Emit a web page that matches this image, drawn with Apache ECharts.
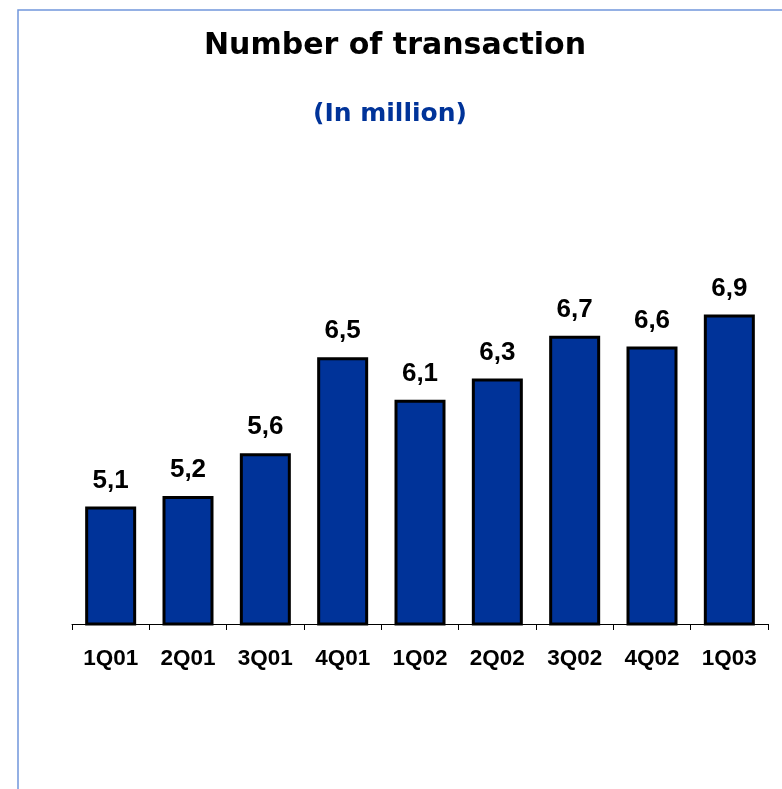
<!DOCTYPE html>
<html>
<head>
<meta charset="utf-8">
<script src="https://cdn.jsdelivr.net/npm/echarts@6/dist/echarts.min.js"></script>
<style>
  html, body { margin: 0; padding: 0; background: #ffffff; }
  #chart { width: 782px; height: 789px; }
</style>
</head>
<body>
<div id="chart"></div>
<script>
// Quarterly transaction counts, in millions
const quarters = ['1Q01', '2Q01', '3Q01', '4Q01', '1Q02', '2Q02', '3Q02', '4Q02', '1Q03'];
const transactions = [5.1, 5.2, 5.6, 6.5, 6.1, 6.3, 6.7, 6.6, 6.9];

const chart = echarts.init(document.getElementById('chart'), null, { renderer: 'canvas' });

chart.setOption({
  backgroundColor: '#ffffff',
  animation: false,
  graphic: [
    {
      type: 'rect',
      shape: { x: 18, y: 10, width: 800, height: 800 },
      style: { fill: 'none', stroke: '#7297dc', lineWidth: 1.5 },
      silent: true
    },
    {
      type: 'text',
      x: 395,
      y: 46,
      style: {
        text: 'Number of transaction',
        font: 'bold 30px "DejaVu Sans"',
        fill: '#000000',
        align: 'center',
        verticalAlign: 'middle'
      }
    },
    {
      type: 'text',
      x: 390,
      y: 114,
      style: {
        text: '(In million)',
        font: 'bold 25px "DejaVu Sans"',
        fill: '#003399',
        align: 'center',
        verticalAlign: 'middle'
      }
    }
  ],
  grid: { left: 72, right: 14, top: 197, bottom: 165 },
  xAxis: {
    type: 'category',
    data: quarters,
    boundaryGap: true,
    axisLine: { show: true, lineStyle: { color: '#000000', width: 1 } },
    axisTick: { show: true, length: 6, lineStyle: { color: '#000000', width: 1 } },
    axisLabel: {
      margin: 23,
      color: '#000000',
      fontFamily: '"Liberation Sans", Arial, sans-serif',
      fontWeight: 'bold',
      fontSize: 22.5
    }
  },
  yAxis: {
    type: 'value',
    min: 4,
    max: 8,
    show: false,
    splitLine: { show: false }
  },
  series: [{
    type: 'bar',
    data: transactions,
    barWidth: 51,
    itemStyle: { color: '#003399', borderColor: '#000000', borderWidth: 3 },
    label: {
      show: true,
      position: 'top',
      distance: 13,
      color: '#000000',
      fontFamily: '"Liberation Sans", Arial, sans-serif',
      fontWeight: 'bold',
      fontSize: 26,
      formatter: p => String(p.value).replace('.', ',')
    }
  }]
});
</script>
</body>
</html>
